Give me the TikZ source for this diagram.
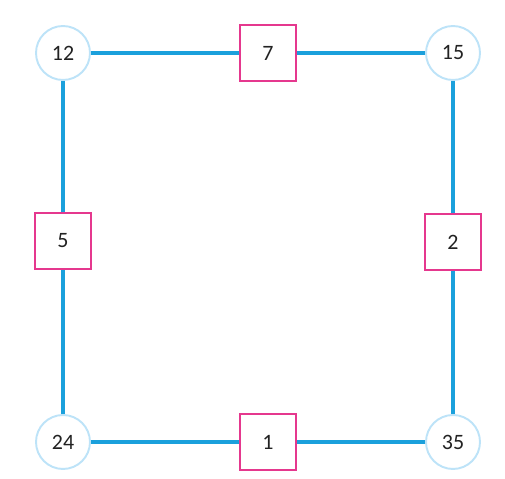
\documentclass[tikz,border=0pt]{standalone}
\usepackage{fontspec}
\setmainfont{Carlito}
\usetikzlibrary{positioning}
\definecolor{edgeblue}{HTML}{1AA0DC}
\definecolor{ringblue}{HTML}{BDE3F8}
\definecolor{boxpink}{HTML}{E5388E}
\definecolor{numgray}{HTML}{222222}
\newlength{\pxu}
\setlength{\pxu}{0.02cm}
\tikzset{
  corner/.style={circle, draw=ringblue, line width=1.1pt, fill=white, text=numgray,
                 minimum size=54\pxu, inner sep=0pt, font=\fontsize{12.5}{14}\selectfont},
  weight/.style={rectangle, draw=boxpink, line width=1.1pt, fill=white, text=numgray,
                 minimum size=56\pxu, inner sep=0pt, font=\fontsize{12.5}{14}\selectfont},
  side/.style={edgeblue, line width=1.75pt}
}
\begin{document}
\begin{tikzpicture}[x=0.02cm, y=-0.02cm]
  \useasboundingbox (0,0) rectangle (505,479);
  % corners of the frame
  \node[corner] (n12) at (63,53) {12};
  \node[corner] (n15) at (453,53) {15};
  \node[corner] (n24) at (63,442) {24};
  \node[corner] (n35) at (453,442) {35};
  % numbers on the sides
  \node[weight] (w7) at (268,53) {7};
  \node[weight] (w5) at (63,241) {5};
  \node[weight] (w2) at (453,242) {2};
  \node[weight] (w1) at (268,442) {1};
  \draw[side] (n12) -- (w7) -- (n15);
  \draw[side] (n15) -- (w2) -- (n35);
  \draw[side] (n35) -- (w1) -- (n24);
  \draw[side] (n24) -- (w5) -- (n12);
\end{tikzpicture}
\end{document}
